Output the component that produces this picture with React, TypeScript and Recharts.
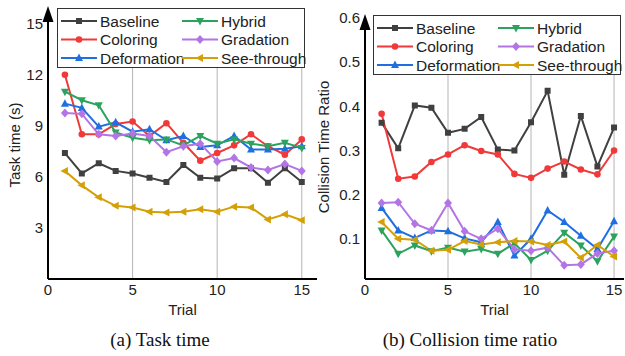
import { Line, LineChart, ReferenceLine, XAxis, YAxis } from 'recharts';

const FONT = '"Liberation Sans", Arial, sans-serif';
const INK = '#222';

const trials = [1, 2, 3, 4, 5, 6, 7, 8, 9, 10, 11, 12, 13, 14, 15];

// task time (s) per trial
const taskBaseline = [7.4, 6.2, 6.8, 6.35, 6.2, 5.95, 5.7, 6.7, 5.95, 5.9, 6.5, 6.5, 5.65, 6.5, 5.7];
const taskColoring = [12.0, 8.5, 8.5, 9.1, 9.25, 8.4, 9.15, 8.0, 6.95, 7.4, 7.85, 8.5, 7.8, 7.3, 8.2];
const taskDeformation = [10.3, 10.05, 8.95, 9.2, 8.65, 8.8, 8.15, 8.4, 7.75, 7.85, 8.4, 7.6, 7.6, 7.65, 7.8];
const taskHybrid = [11.0, 10.5, 10.2, 8.6, 8.3, 8.15, 8.2, 7.85, 8.4, 7.95, 8.2, 7.95, 7.8, 8.0, 7.7];
const taskGradation = [9.75, 9.7, 8.5, 8.4, 8.55, 8.4, 7.45, 7.8, 7.95, 6.9, 7.1, 6.55, 6.4, 6.75, 6.35];
const taskSeeThrough = [6.35, 5.5, 4.8, 4.3, 4.2, 3.95, 3.9, 3.95, 4.1, 3.95, 4.25, 4.2, 3.5, 3.8, 3.45];

// collision time ratio per trial
const ratioBaseline = [0.363, 0.305, 0.402, 0.397, 0.34, 0.349, 0.376, 0.302, 0.3, 0.364, 0.435, 0.245, 0.378, 0.264, 0.352];
const ratioColoring = [0.383, 0.236, 0.241, 0.274, 0.291, 0.312, 0.299, 0.291, 0.247, 0.238, 0.259, 0.275, 0.257, 0.246, 0.3];
const ratioDeformation = [0.17, 0.119, 0.102, 0.119, 0.117, 0.101, 0.092, 0.138, 0.062, 0.1, 0.164, 0.138, 0.107, 0.077, 0.14];
const ratioHybrid = [0.119, 0.066, 0.085, 0.072, 0.08, 0.071, 0.077, 0.066, 0.09, 0.052, 0.073, 0.114, 0.085, 0.049, 0.105];
const ratioGradation = [0.181, 0.183, 0.134, 0.119, 0.181, 0.117, 0.1, 0.123, 0.076, 0.073, 0.08, 0.04, 0.042, 0.067, 0.073];
const ratioSeeThrough = [0.138, 0.1, 0.098, 0.073, 0.075, 0.095, 0.087, 0.092, 0.095, 0.094, 0.086, 0.094, 0.057, 0.086, 0.06];

const xTicks = [0, 5, 10, 15];
const taskTicks = [3, 6, 9, 12, 15];
const ratioTicks = [0.1, 0.2, 0.3, 0.4, 0.5, 0.6];

type Shape = 'square' | 'circle' | 'up' | 'down' | 'diamond' | 'left';

const SERIES: { key: string; name: string; color: string; shape: Shape }[] = [
  { key: 'baseline', name: 'Baseline', color: '#404040', shape: 'square' },
  { key: 'coloring', name: 'Coloring', color: '#f03a3a', shape: 'circle' },
  { key: 'deformation', name: 'Deformation', color: '#1f6fe0', shape: 'up' },
  { key: 'hybrid', name: 'Hybrid', color: '#2ca25f', shape: 'down' },
  { key: 'gradation', name: 'Gradation', color: '#b375e6', shape: 'diamond' },
  { key: 'seeThrough', name: 'See-through', color: '#d4a006', shape: 'left' },
];

const taskData = trials.map((t, i) => ({
  t,
  baseline: taskBaseline[i],
  coloring: taskColoring[i],
  deformation: taskDeformation[i],
  hybrid: taskHybrid[i],
  gradation: taskGradation[i],
  seeThrough: taskSeeThrough[i],
}));

const ratioData = trials.map((t, i) => ({
  t,
  baseline: ratioBaseline[i],
  coloring: ratioColoring[i],
  deformation: ratioDeformation[i],
  hybrid: ratioHybrid[i],
  gradation: ratioGradation[i],
  seeThrough: ratioSeeThrough[i],
}));

function markerPath(shape: Shape, x: number, y: number) {
  switch (shape) {
    case 'square':
      return `M${x - 3},${y - 3}h6v6h-6z`;
    case 'up':
      return `M${x},${y - 4.5}L${x + 4},${y + 3}L${x - 4},${y + 3}z`;
    case 'down':
      return `M${x},${y + 4.5}L${x + 4},${y - 3}L${x - 4},${y - 3}z`;
    case 'diamond':
      return `M${x},${y - 4.5}L${x + 4},${y}L${x},${y + 4.5}L${x - 4},${y}z`;
    case 'left':
      return `M${x - 4.5},${y}L${x + 3},${y - 4}L${x + 3},${y + 4}z`;
    default:
      return '';
  }
}

function Marker({ shape, x, y, color }: { shape: Shape; x: number; y: number; color: string }) {
  if (shape === 'circle') return <circle cx={x} cy={y} r={3.3} fill={color} />;
  return <path d={markerPath(shape, x, y)} fill={color} />;
}

const arrowPath = (x: number, y: number) => `M${x},${y - 4}L${x + 5.5},${y + 12}L${x - 5.5},${y + 12}z`;

// arrow head at the top end of the y axis line (axis viewBox is a trapezoid in recharts 3)
const AxisArrow = (p: any) => {
  const vb = p.viewBox || {};
  const x = (vb.x ?? 0) + (vb.width ?? vb.upperWidth ?? 0);
  const y = vb.y ?? 0;
  return <path d={arrowPath(x, y)} fill="#000" />;
};

function Legend({ left, top }: { left: number; top: number }) {
  const rows = [12, 30.5, 49];
  return (
    <div
      style={{
        position: 'absolute',
        left,
        top,
        width: 248,
        height: 60,
        background: '#fff',
        border: '1px solid #333',
        boxSizing: 'border-box',
      }}
    >
      <svg width={248} height={60} style={{ position: 'absolute', left: 0, top: 0 }}>
        {SERIES.map((s, i) => {
          const col = i < 3 ? 0 : 1;
          const y = rows[i % 3];
          const x0 = col === 0 ? 3 : 124;
          return (
            <g key={s.key}>
              <line x1={x0} x2={x0 + 36} y1={y} y2={y} stroke={s.color} strokeWidth={2} />
              <Marker shape={s.shape} x={x0 + 18} y={y} color={s.color} />
              <text
                x={x0 + 39}
                y={y}
                dominantBaseline="central"
                fontSize={15.5}
                fontFamily={FONT}
                fill={INK}
              >
                {s.name}
              </text>
            </g>
          );
        })}
      </svg>
    </div>
  );
}

function Panel({
  data,
  xMax,
  yDomain,
  yTicks,
  yWidth,
  top,
  right,
  fmt,
}: {
  data: Record<string, number>[];
  xMax: number;
  yDomain: [number, number];
  yTicks: number[];
  yWidth: number;
  top: number;
  right: number;
  fmt?: (v: number) => string;
}) {
  const tick = { fontSize: 15, fill: INK, fontFamily: FONT };
  return (
    <LineChart width={320} height={330} data={data} margin={{ top, right, bottom: 11, left: 0 }}>
      <XAxis
        dataKey="t"
        type="number"
        domain={[0, xMax]}
        ticks={xTicks}
        height={40}
        tickLine={false}
        tickSize={3}
        tickMargin={2}
        tick={tick}
        axisLine={{ stroke: '#000', strokeWidth: 2 }}
        label={{ value: 'Trial', position: 'insideBottom', offset: 4, fontSize: 15, fill: INK, fontFamily: FONT }}
      />
      <YAxis
        type="number"
        domain={yDomain}
        ticks={yTicks}
        width={yWidth}
        tickLine={false}
        tickSize={3}
        tickMargin={2}
        tick={tick}
        tickFormatter={fmt ?? ((v: number) => String(v))}
        allowDataOverflow
        axisLine={{ stroke: '#000', strokeWidth: 2 }}
        label={{ content: AxisArrow }}
      />
      {[5, 10, 15].map((x) => (
        <ReferenceLine key={x} x={x} stroke="#b5b5b5" strokeWidth={1} />
      ))}
      {SERIES.map((s) => (
        <Line
          key={s.key}
          dataKey={s.key}
          stroke={s.color}
          strokeWidth={2}
          isAnimationActive={false}
          dot={(p: any) => <Marker key={p.index} shape={s.shape} x={p.cx} y={p.cy} color={s.color} />}
          activeDot={false}
        />
      ))}
    </LineChart>
  );
}

const captionStyle = {
  position: 'absolute' as const,
  top: 329,
  fontFamily: '"Liberation Serif", "Times New Roman", serif',
  fontSize: 19,
  color: '#111',
  textAlign: 'center' as const,
  width: 300,
};

const axisTitleStyle = {
  position: 'absolute' as const,
  width: 200,
  textAlign: 'center' as const,
  fontFamily: FONT,
  fontSize: 15,
  color: INK,
  transform: 'rotate(-90deg)',
  lineHeight: '18px',
};

export default function App() {
  return (
    <div style={{ position: 'absolute', left: 0, top: 0, width: 625, height: 356, background: '#fff' }}>
      <div style={{ position: 'absolute', left: 0, top: 0 }}>
        <Panel
          data={taskData}
          xMax={15.9}
          yDomain={[0, 15.8]}
          yTicks={taskTicks}
          yWidth={48}
          top={10}
          right={3}
        />
      </div>
      <div style={{ position: 'absolute', left: 305, top: 0 }}>
        <Panel
          data={ratioData}
          xMax={15.6}
          yDomain={[0.009, 0.6]}
          yTicks={ratioTicks}
          yWidth={60}
          top={18}
          right={1}
          fmt={(v) => v.toFixed(1)}
        />
      </div>
      <div style={{ ...axisTitleStyle, left: 15 - 100, top: 145 - 9 }}>Task time (s)</div>
      <div style={{ ...axisTitleStyle, left: 324 - 100, top: 147 - 9 }}>Collision Time Ratio</div>
      <Legend left={57} top={8} />
      <Legend left={373} top={15} />
      <div style={{ ...captionStyle, left: 10 }}>(a) Task time</div>
      <div style={{ ...captionStyle, left: 320 }}>(b) Collision time ratio</div>
    </div>
  );
}
